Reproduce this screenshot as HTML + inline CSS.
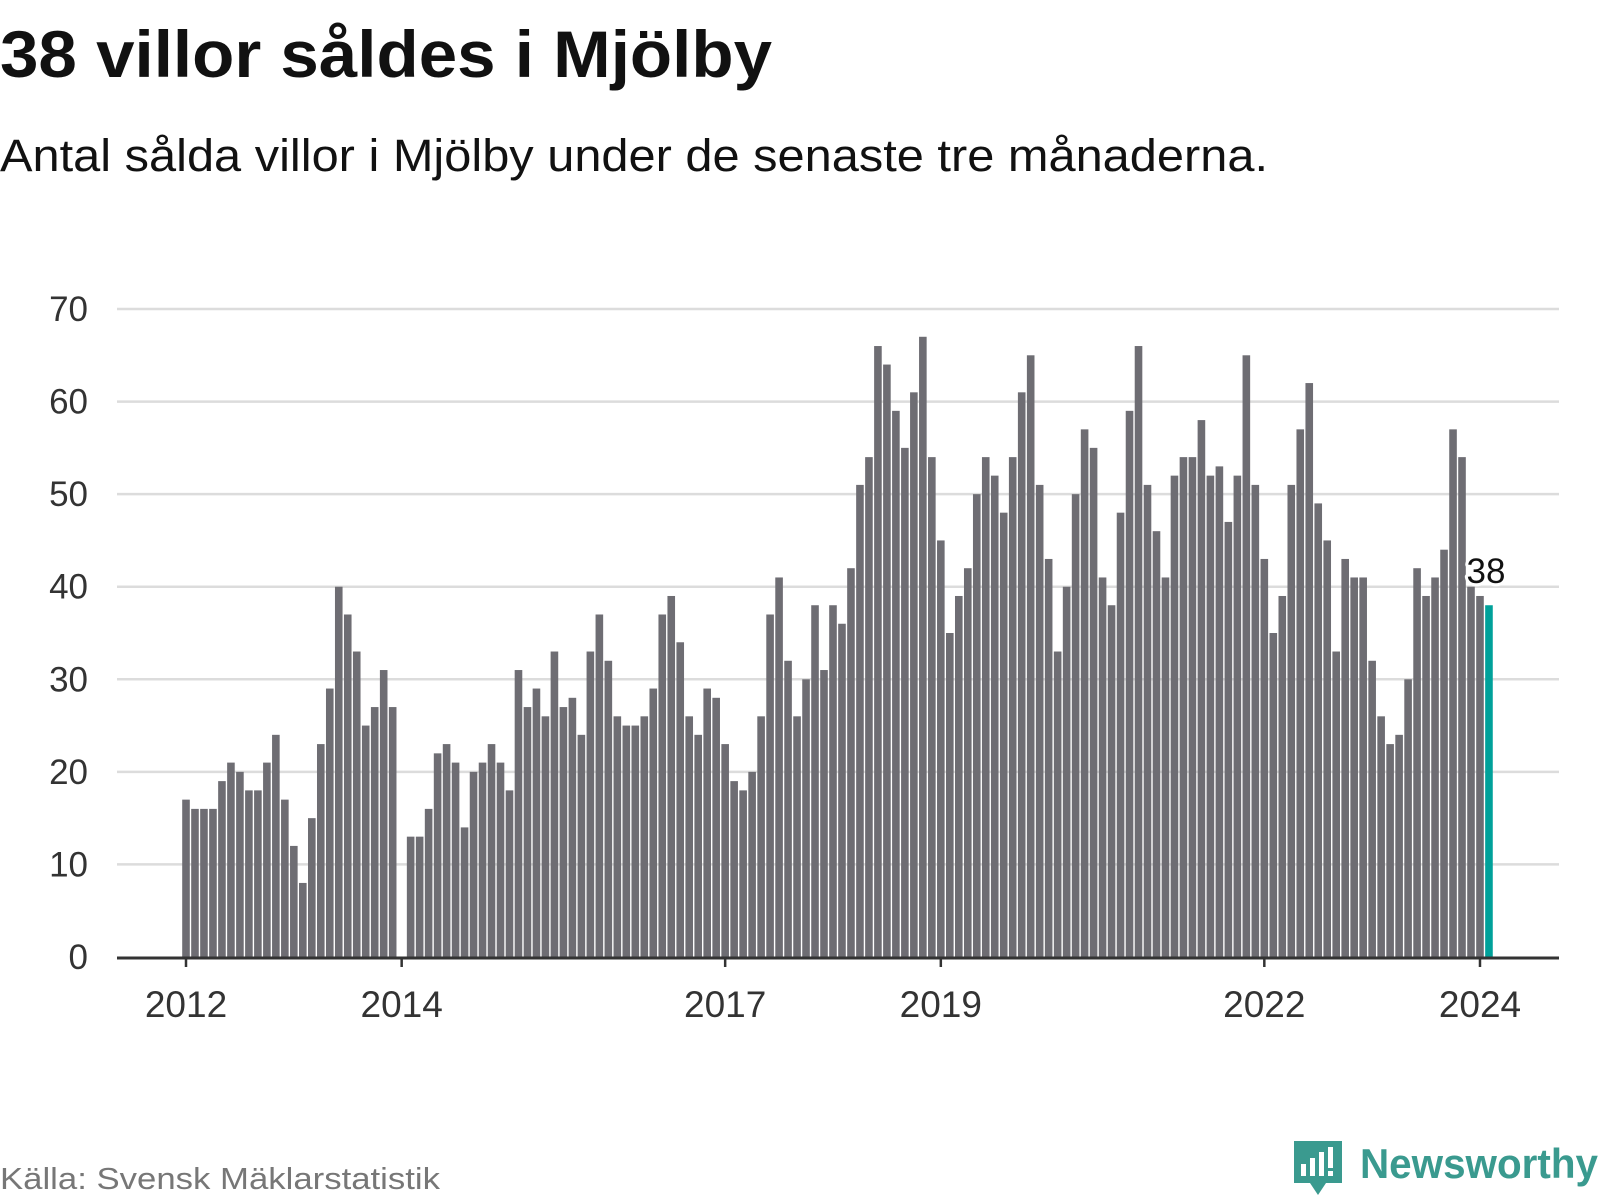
<!DOCTYPE html>
<html><head><meta charset="utf-8"><style>
html,body{margin:0;padding:0;background:#fff;width:1600px;height:1200px;overflow:hidden}
svg text{font-family:"Liberation Sans",sans-serif}
</style></head><body>
<svg id="chart" width="1600" height="1200" xmlns="http://www.w3.org/2000/svg">
<text x="0" y="77" font-size="66" font-weight="bold" fill="#111" textLength="772" lengthAdjust="spacingAndGlyphs">38 villor såldes i Mjölby</text>
<text x="0" y="171" font-size="45" fill="#111" textLength="1268" lengthAdjust="spacingAndGlyphs">Antal sålda villor i Mjölby under de senaste tre månaderna.</text>
<g id="grid"></g><g id="bars"></g><g id="axis"></g>
<text x="0" y="1189" font-size="31" fill="#777" textLength="440" lengthAdjust="spacingAndGlyphs">Källa: Svensk Mäklarstatistik</text>
<g>
<path d="M1294 1141 h48 v42 h-16 l-8 12 l-8 -12 h-16 z" fill="#3a9a8f"/>
<rect x="1301" y="1164" width="5" height="12" fill="#fff"/><rect x="1310" y="1158" width="5" height="18" fill="#fff"/><rect x="1319" y="1152" width="5" height="24" fill="#fff"/><rect x="1328" y="1147" width="5" height="21" fill="#fff"/><rect x="1328" y="1171" width="5" height="5" fill="#fff"/>
<text x="1360" y="1178" font-size="42" font-weight="bold" fill="#3a9a8f" textLength="238" lengthAdjust="spacingAndGlyphs">Newsworthy</text>
</g>
</svg>
<script>
const values=[17,16,16,16,19,21,20,18,18,21,24,17,
12,8,15,23,29,40,37,33,25,27,31,27,
0,13,13,16,22,23,21,14,20,21,23,21,
18,31,27,29,26,33,27,28,24,33,37,32,
26,25,25,26,29,37,39,34,26,24,29,28,
23,19,18,20,26,37,41,32,26,30,38,31,
38,36,42,51,54,66,64,59,55,61,67,54,
45,35,39,42,50,54,52,48,54,61,65,51,
43,33,40,50,57,55,41,38,48,59,66,51,
46,41,52,54,54,58,52,53,47,52,65,51,
43,35,39,51,57,62,49,45,33,43,41,41,
32,26,23,24,30,42,39,41,44,57,54,40,
39,38];
const yTicks=[0,10,20,30,40,50,60,70];
const xTickLabels=["2012","2014","2017","2019","2022","2024"];
const xTickIndex=[0,24,60,84,120,144];
const NS="http://www.w3.org/2000/svg";
const X0=186,STEP=8.986,Y0=957,YS=9.257,BW=7.6;
const xs=i=>X0+i*STEP, ys=v=>Y0-v*YS;
function mk(t,a,p){const e=document.createElementNS(NS,t);for(const k in a)e.setAttribute(k,a[k]);p.appendChild(e);return e;}
const grid=document.getElementById('grid'),bars=document.getElementById('bars'),axis=document.getElementById('axis');
yTicks.forEach(v=>{
 if(v>0){const l=mk('line',{x1:117,x2:1559,y1:ys(v),y2:ys(v),stroke:'#dcdcdc','stroke-width':2.5},grid);
 
 }
 const t=mk('text',{x:88,y:ys(v)+12,'font-size':35,fill:'#333','text-anchor':'end'},grid);
 t.textContent=v;
 
 
});
values.forEach((v,i)=>{
 if(v<=0)return;
 const r=mk('rect',{x:xs(i)-BW/2,y:ys(v),width:BW,height:v*YS,fill:i===values.length-1?'#00a19a':'#6e6d73'},bars);
 
 
});
const base=mk('line',{x1:117,x2:1559,y1:Y0+1,y2:Y0+1,stroke:'#333','stroke-width':3},axis);


xTickIndex.forEach((idx,k)=>{
 mk('line',{x1:xs(idx),x2:xs(idx),y1:Y0,y2:Y0+10,stroke:'#333','stroke-width':2.5},axis);
 const t=mk('text',{x:xs(idx),y:1017,'font-size':37,fill:'#333','text-anchor':'middle'},axis);
 t.textContent=xTickLabels[k];
 
 
});
const last=values.length-1;
const lbl=mk('text',{x:xs(last)-3,y:ys(values[last])-22,'font-size':35,fill:'#111','text-anchor':'middle',stroke:'#fff','stroke-width':6,'paint-order':'stroke','stroke-linejoin':'round'},axis);
lbl.textContent=values[last];


</script>
</body></html>
